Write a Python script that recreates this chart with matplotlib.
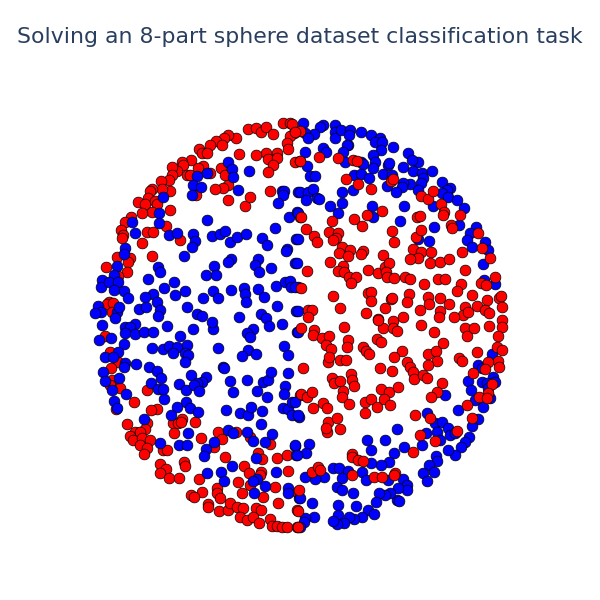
import numpy as np
import matplotlib
matplotlib.use("Agg")
import matplotlib.pyplot as plt

TITLE = "Solving an 8-part sphere dataset classification task"

nw_red = [(473,58),(497,55),(512,66),(527,52),(549,71),(580,40),(600,40),(607,42),(612,68),(600,78),(590,100),(593,118),(560,128),(527,130),(497,134),(448,133),(535,148),(561,145),(549,165),(533,187),(616,157),(630,152),(438,85),(415,75),(403,85),(378,92),(360,104),(397,105),(327,118),(335,128),(352,130),(302,150),(277,155),(280,165),(340,168),(325,175),(262,182),(245,172),(245,195),(238,211),(212,214),(290,195),(300,195),(393,175),(405,195),(415,225),(400,233),(376,237),(413,270),(465,289),(481,262),(540,244),(318,255),(360,188),(240,243),(215,238),(185,237),(180,243),(175,265),(145,275),(165,283),(195,272),(200,283),(185,305),(157,310),(241,299),(123,320),(105,335),(93,360),(100,375),(97,385),(227,347),(170,365),(190,367),(157,400),(270,390),(185,439),(80,440),(120,445),(115,456),(48,470),(110,486),(85,498),(58,575),(50,583),(70,580),(65,605),(630,320)]
nw_blue = [(477,182),(415,155),(425,177),(428,202),(350,190),(320,197),(310,225),(332,230),(305,256),(443,240),(220,262),(208,308),(207,340),(127,337),(134,370),(350,330),(238,375),(260,368),(310,373),(315,393),(305,412),(283,438),(365,377),(390,372),(405,363),(420,397),(440,380),(467,371),(515,385),(531,405),(556,354),(597,320),(575,244),(582,243),(580,256),(564,278),(625,246),(620,305),(618,388),(590,418),(587,424),(504,448),(423,446),(415,457),(496,466),(507,486),(543,473),(616,459),(372,469),(349,496),(379,495),(205,471),(209,486),(175,507),(105,413),(101,431),(82,467),(72,496),(37,509),(32,532),(57,516),(83,515),(71,539),(103,544),(113,563),(253,517),(223,535),(254,556),(285,544),(188,553),(165,562),(202,576),(368,543),(385,565),(339,564),(423,539),(461,534),(464,552),(467,575),(504,538),(523,560),(558,527),(585,517),(600,513),(603,530),(623,532),(560,587),(618,603),(290,590),(148,597),(167,590),(210,600),(205,617),(320,611),(335,617),(447,622),(512,613),(527,625),(25,587),(33,606),(15,610),(80,606),(87,590),(75,625)]

ne_red = [(15,62),(0,65),(14,153),(73,140),(129,145),(175,150),(185,152),(153,208),(188,223),(227,238),(287,212),(295,207),(379,257),(400,268),(413,242),(438,282),(448,305),(444,315),(494,314),(262,302),(217,316),(178,326),(202,349),(110,333),(17,322),(32,356),(57,377),(65,396),(103,366),(129,370),(123,383),(115,390),(140,411),(131,428),(165,420),(160,437),(203,423),(199,433),(264,434),(104,456),(37,483),(145,468),(130,484),(147,485),(162,500),(184,502),(168,520),(220,479),(250,488),(270,470),(282,460),(272,485),(275,500),(298,505),(329,500),(345,508),(387,522),(428,507),(451,507),(511,479),(558,518),(574,526),(601,501),(498,523),(486,544),(532,555),(367,322),(375,317),(292,364),(298,396),(364,380),(378,361),(355,416),(377,426),(369,445),(345,447),(409,427),(404,459),(436,455),(462,447),(502,426),(548,368),(562,413),(586,445),(468,345),(471,355),(115,558),(135,594),(220,548),(229,545),(229,572),(288,567),(290,563),(341,552),(335,575),(271,595),(214,608),(398,562),(401,582),(436,565),(463,581),(376,600),(436,604),(510,590),(546,587),(577,570),(570,600),(582,610),(613,563),(617,558),(620,591),(505,615),(520,605),(478,620),(622,630),(40,600),(52,600),(38,620),(17,533),(250,628),(293,632),(325,620),(432,620)]
ne_blue = [(25,40),(85,45),(75,50),(120,45),(120,65),(57,72),(30,70),(40,85),(120,85),(137,60),(165,60),(197,65),(162,75),(227,75),(255,85),(240,97),(262,95),(295,110),(257,120),(160,105),(155,105),(85,115),(93,125),(30,125),(145,125),(235,135),(240,155),(235,175),(150,155),(198,155),(203,162),(280,165),(283,158),(340,130),(370,155),(350,150),(325,172),(355,182),(380,188),(410,182),(35,168),(44,198),(61,197),(178,195),(198,193),(222,203),(265,192),(292,196),(383,205),(378,218),(345,222),(325,220),(320,232),(275,228),(303,247),(175,240),(141,246),(15,246),(40,245),(55,238),(33,270),(65,265),(72,268),(142,279),(104,288),(128,308),(230,289),(235,320),(328,288),(315,333),(368,240),(440,215),(465,233),(455,240),(440,250),(460,260),(487,270),(508,293),(415,287),(493,346),(416,350),(543,350),(525,370),(515,390),(530,411),(570,395),(580,420),(563,462),(401,393),(370,388),(568,510),(600,522),(10,310),(8,388),(5,459),(8,603),(0,530)]

sw_red = [(45,47),(60,97),(85,125),(62,145),(65,180),(60,195),(90,205),(172,209),(133,246),(78,268),(200,266),(183,270),(110,313),(172,310),(165,327),(135,335),(150,337),(120,348),(128,360),(155,355),(180,360),(150,375),(172,385),(162,402),(218,390),(230,389),(248,310),(263,310),(275,297),(272,305),(314,306),(253,340),(334,354),(383,337),(395,357),(437,335),(480,350),(540,372),(405,410),(372,380),(505,400),(515,417),(561,414),(590,405),(593,453),(462,438),(478,460),(514,455),(510,465),(445,487),(480,495),(455,520),(555,500),(520,530),(565,550),(622,515),(630,225),(210,432),(282,425),(284,439),(228,447),(211,458),(237,474),(267,473),(326,477),(380,503),(380,518),(304,526),(336,517),(312,530),(390,535),(354,552),(355,560),(388,573),(413,570),(420,550),(442,562),(460,565),(497,563),(513,570),(450,592),(470,600),(490,590),(507,610),(541,597),(545,617),(560,617),(575,622),(590,622),(620,622),(620,570)]
sw_blue = [(35,15),(105,20),(135,12),(120,20),(105,40),(135,42),(163,37),(188,37),(230,17),(310,28),(368,28),(365,5),(269,47),(27,60),(63,54),(103,71),(185,83),(220,86),(237,77),(262,80),(290,76),(250,100),(285,100),(295,105),(285,125),(383,83),(490,28),(470,40),(481,50),(538,18),(577,12),(621,37),(582,78),(593,105),(473,90),(455,107),(498,103),(400,140),(403,145),(85,96),(45,110),(68,112),(105,128),(103,142),(139,133),(178,142),(200,152),(214,175),(38,156),(45,182),(87,175),(65,210),(107,223),(72,242),(80,264),(182,190),(205,207),(220,208),(223,236),(266,192),(288,210),(303,165),(348,170),(335,185),(320,190),(312,195),(328,212),(421,183),(470,181),(430,215),(502,213),(530,232),(518,187),(535,180),(543,157),(595,160),(585,198),(583,222),(408,270),(449,280),(474,285),(484,260),(517,272),(512,313),(578,263),(593,267),(605,245),(605,285),(628,290),(288,245),(260,260),(299,264),(244,286),(325,277),(162,296),(294,338),(211,370),(268,374),(290,376),(349,386),(342,408),(373,367),(413,330),(430,340),(472,336),(490,363),(526,366),(545,343),(615,377),(618,405),(497,415),(427,438),(350,458),(393,455),(402,484),(558,455),(500,477),(488,484),(525,497),(492,518),(595,505),(593,520),(628,535)]

se_red = [(18,25),(58,30),(55,45),(80,55),(103,47),(93,75),(108,87),(160,60),(155,82),(148,20),(245,57),(258,65),(205,80),(213,93),(222,103),(265,25),(250,0),(295,25),(305,32),(322,93),(297,110),(335,127),(345,140),(355,155),(358,178),(383,165),(395,175),(400,103),(422,92),(425,122),(398,135),(378,15),(418,35),(444,68),(510,25),(517,48),(537,25),(582,17),(622,20),(610,48),(607,80),(620,90),(608,122),(612,140),(547,97),(493,115),(500,123),(580,125),(570,148),(535,158),(100,127),(135,120),(153,120),(103,110),(25,143),(254,143),(292,153),(110,175),(118,190),(135,182),(168,162),(170,180),(177,197),(145,212),(140,232),(163,252),(18,222),(35,232),(52,215),(55,263),(83,250),(97,265),(210,246),(228,238),(247,262),(210,278),(258,208),(282,217),(310,200),(267,237),(284,256),(441,188),(425,215),(407,232),(591,193),(578,220),(552,230),(575,235),(515,256),(530,295),(100,305),(125,295),(135,327),(95,335),(92,325),(360,284),(404,293),(487,332),(376,345),(420,364),(353,395),(172,402),(172,410),(190,420),(203,423),(50,455),(70,442),(75,450),(170,465),(237,470),(260,470),(299,458),(297,465),(12,510),(10,572),(10,622)]
se_blue = [(10,37),(592,103),(548,135),(560,145),(595,170),(600,185),(520,183),(560,185),(575,190),(528,210),(580,205),(540,240),(565,262),(585,235),(449,226),(490,269),(395,278),(550,297),(530,317),(420,310),(440,305),(460,325),(427,335),(465,345),(480,340),(435,360),(392,340),(382,376),(522,350),(510,367),(497,380),(480,405),(460,390),(423,408),(427,423),(402,435),(417,457),(385,460),(395,483),(306,326),(216,361),(270,360),(227,391),(327,381),(298,398),(281,425),(258,436),(229,428),(200,455),(213,480),(115,445),(133,445),(158,453),(140,475),(125,500),(140,510),(175,520),(278,480),(325,477),(335,495),(337,510),(310,503),(305,540),(313,543),(285,520),(270,525),(252,520),(243,547),(130,554),(184,557),(128,585),(218,570),(237,583),(200,590),(177,598),(162,590),(147,610),(125,613),(115,603),(58,592),(30,593),(28,605),(15,620),(50,548),(15,535),(87,472),(60,478),(30,470),(43,372),(33,398),(5,405),(0,375),(10,284),(0,245)]


def crop_to_px(points, left, top):
    # crops were 3x, with their corner at (left, top)
    pts = np.array(points, dtype=float)
    return pts[:, 0] / 3 + left, pts[:, 1] / 3 + top


def draw(ax, points, left, top, color, z):
    x, y = crop_to_px(points, left, top)
    ax.scatter(x, y, s=MARKER_SIZE, c=color, edgecolors="black", linewidths=0.5, zorder=z)


MARKER_SIZE = 60

fig = plt.figure(figsize=(6, 6), dpi=100)
ax = fig.add_axes([0, 0, 1, 1])
ax.set_xlim(0, 600)
ax.set_ylim(600, 0)
ax.axis("off")

# left half: blue sits over red, right half: red sits over blue
draw(ax, nw_red, 90, 110, "red", 1)
draw(ax, sw_red, 90, 320, "red", 1)
draw(ax, nw_blue, 90, 110, "blue", 2)
draw(ax, sw_blue, 90, 320, "blue", 2)
draw(ax, ne_blue, 295, 110, "blue", 2)
draw(ax, se_blue, 295, 320, "blue", 2)
draw(ax, ne_red, 295, 110, "red", 3)
draw(ax, se_red, 295, 320, "red", 3)

ax.text(300, 37, TITLE, ha="center", va="center", fontsize=15.85,
        color="#2a3f5f", family="DejaVu Sans")

fig.savefig("out.png", dpi=100)
